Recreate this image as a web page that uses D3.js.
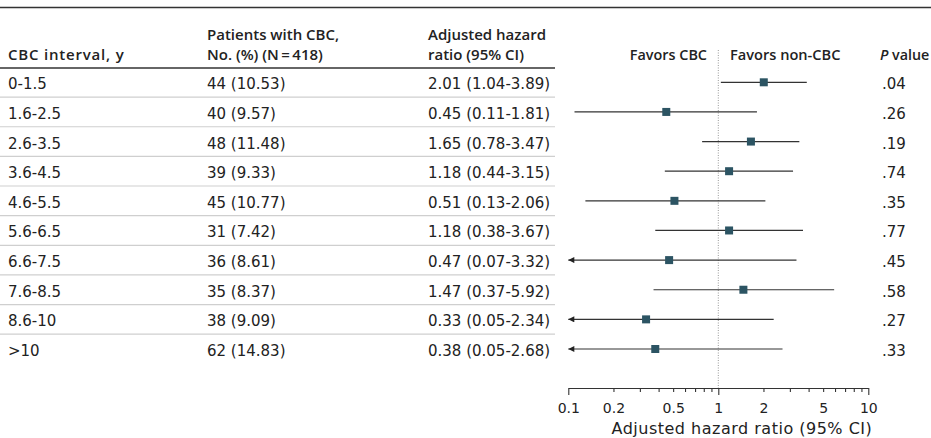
<!DOCTYPE html>
<html>
<head>
<meta charset="utf-8">
<script src="https://cdn.jsdelivr.net/npm/d3@7/dist/d3.min.js"></script>
<style>
  html, body { margin: 0; padding: 0; background: #fff; }
  svg { display: block; }
  text { font-family: "DejaVu Sans", sans-serif; fill: #222; }
  .hdr text { font-family: "Open Sans", sans-serif; }
</style>
</head>
<body>
<svg id="chart" width="931" height="438"></svg>
<script>
// ---- data ----
const intervals = ["0-1.5","1.6-2.5","2.6-3.5","3.6-4.5","4.6-5.5","5.6-6.5","6.6-7.5","7.6-8.5","8.6-10",">10"];
const counts    = [44, 40, 48, 39, 45, 31, 36, 35, 38, 62];
const percents  = [10.53, 9.57, 11.48, 9.33, 10.77, 7.42, 8.61, 8.37, 9.09, 14.83];
const hr        = [2.01, 0.45, 1.65, 1.18, 0.51, 1.18, 0.47, 1.47, 0.33, 0.38];
const ciLow     = [1.04, 0.11, 0.78, 0.44, 0.13, 0.38, 0.07, 0.37, 0.05, 0.05];
const ciHigh    = [3.89, 1.81, 3.47, 3.15, 2.06, 3.67, 3.32, 5.92, 2.34, 2.68];
const pValues   = [".04", ".26", ".19", ".74", ".35", ".77", ".45", ".58", ".27", ".33"];
const tickValues  = [0.1,0.2,0.3,0.4,0.5,0.6,0.7,0.8,0.9,1,2,3,4,5,6,7,8,9,10];
const tickLabels  = [0.1,0.2,0.5,1,2,5,10];
const majorTicks  = [0.1,1,10];

const svg = d3.select("#chart");
const W = 931;
const fs = 15;

const x = d3.scaleLog().domain([0.1, 10]).range([568.3, 868.3]);
const y = d3.scalePoint().domain(intervals).range([82.3, 349]);

const col = { c1: 8, c2: 207, c3: 428, p: 882 };
const tableRight = 555;

// top rule
svg.append("line").attr("x1", 0).attr("x2", W).attr("y1", 7.5).attr("y2", 7.5)
  .attr("stroke", "#333").attr("stroke-width", 1.3);

// headers
const hdr = svg.append("g").attr("class", "hdr").attr("font-size", fs).attr("font-weight", 600);
hdr.append("text").attr("x", col.c1).attr("y", 60).attr("letter-spacing", 0.8).text("CBC interval, y");
hdr.append("text").attr("x", col.c2).attr("y", 39.5).text("Patients with CBC,");
hdr.append("text").attr("x", col.c2).attr("y", 60).text("No. (%) (N\u2009=\u2009418)");
hdr.append("text").attr("x", col.c3).attr("y", 39.5).text("Adjusted hazard");
hdr.append("text").attr("x", col.c3).attr("y", 60).text("ratio (95% CI)");
hdr.append("text").attr("x", 707).attr("y", 60).attr("text-anchor", "end").attr("font-size", 14.4).text("Favors CBC");
hdr.append("text").attr("x", 730).attr("y", 60).attr("font-size", 14.6).text("Favors non-CBC");
const pt = hdr.append("text").attr("x", 880).attr("y", 60).attr("font-size", 14.3);
pt.append("tspan").attr("font-style", "italic").text("P");
pt.append("tspan").text(" value");

// header underline
svg.append("line").attr("x1", 0).attr("x2", tableRight).attr("y1", 68).attr("y2", 68)
  .attr("stroke", "#333").attr("stroke-width", 1.3);

// row separators
const step = y.step();
svg.append("g").selectAll("line").data(intervals.slice(0, -1)).join("line")
  .attr("x1", 0).attr("x2", tableRight)
  .attr("y1", d => y(d) + step / 2).attr("y2", d => y(d) + step / 2)
  .attr("stroke", "#cfcfcf").attr("stroke-width", 1.2);

// table rows
const rows = svg.append("g").attr("font-size", fs).selectAll("g").data(intervals).join("g")
  .attr("transform", d => `translate(0,${y(d) + 7})`);
rows.append("text").attr("x", col.c1).text(d => d);
rows.append("text").attr("x", col.c2).text((d, i) => `${counts[i]} (${percents[i].toFixed(2)})`);
rows.append("text").attr("x", col.c3).text((d, i) => `${hr[i].toFixed(2)} (${ciLow[i].toFixed(2)}-${ciHigh[i].toFixed(2)})`);
rows.append("text").attr("x", col.p).text((d, i) => pValues[i]);

// reference line at 1
svg.append("line").attr("x1", x(1)).attr("x2", x(1)).attr("y1", 50).attr("y2", 388)
  .attr("stroke", "#999").attr("stroke-width", 1).attr("stroke-dasharray", "1,1.5");

// axis
const axisY = 388;
const axis = d3.axisBottom(x).tickValues(tickValues).tickSize(4).tickSizeOuter(0)
  .tickFormat(d => tickLabels.includes(d) ? d3.format("~g")(d) : "");
const ag = svg.append("g").attr("transform", `translate(0,${axisY})`).call(axis);
ag.select(".domain").attr("stroke", "#333").attr("stroke-width", 1.2);
ag.selectAll(".tick line").attr("stroke", "#333").attr("stroke-width", 1.1)
  .attr("y2", d => majorTicks.includes(d) ? 7 : 4);
ag.selectAll(".tick text").attr("font-family", "DejaVu Sans, sans-serif").attr("font-size", 14)
  .attr("fill", "#222").attr("y", 15.5);
svg.append("text").attr("x", 611.5).attr("y", 433.5).attr("font-size", 16)
  .attr("letter-spacing", 0.5).text("Adjusted hazard ratio (95% CI)");

// arrow marker
svg.append("defs").append("marker").attr("id", "arr")
  .attr("viewBox", "0 0 10 10").attr("refX", 10).attr("refY", 5)
  .attr("markerWidth", 8).attr("markerHeight", 6).attr("markerUnits", "userSpaceOnUse")
  .attr("orient", "auto-start-reverse")
  .append("path").attr("d", "M0,0 L10,5 L0,10 z").attr("fill", "#222");

// CI lines
const dmin = x.domain()[0];
const fg = svg.append("g");
fg.selectAll("line").data(intervals).join("line")
  .attr("x1", (d, i) => x(Math.max(ciLow[i], dmin)))
  .attr("x2", (d, i) => x(ciHigh[i]))
  .attr("y1", d => y(d)).attr("y2", d => y(d))
  .attr("stroke", "#333").attr("stroke-width", 1.2)
  .attr("marker-start", (d, i) => ciLow[i] < dmin ? "url(#arr)" : null);

// points
const sq = 8;
fg.selectAll("rect").data(intervals).join("rect")
  .attr("x", (d, i) => x(hr[i]) - sq / 2)
  .attr("y", d => y(d) - sq / 2)
  .attr("width", sq).attr("height", sq)
  .attr("fill", "#2c5463");
</script>
</body>
</html>
